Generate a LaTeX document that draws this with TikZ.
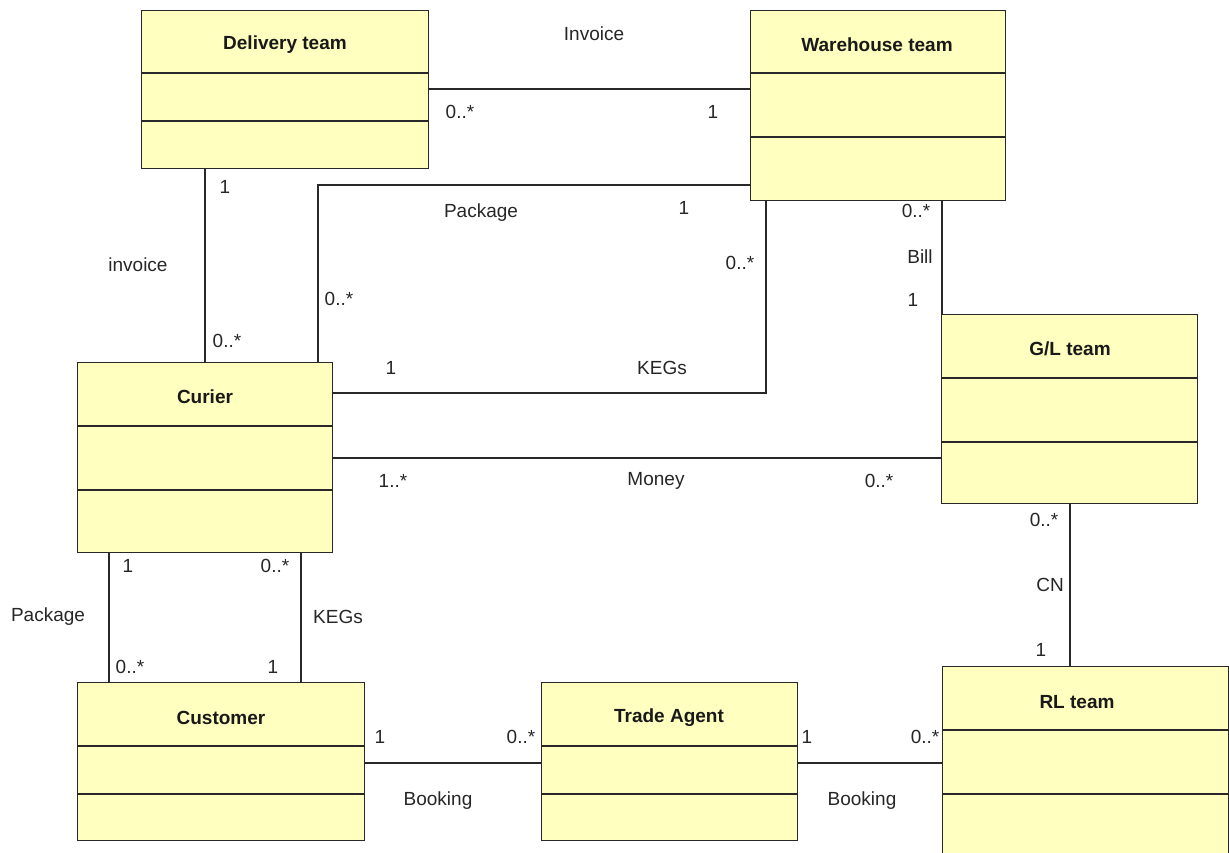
\documentclass[tikz,border=0pt]{standalone}
\usepackage{fontspec}
\setmainfont{Liberation Sans}
\definecolor{clsfill}{RGB}{255,255,192}
\definecolor{clsline}{RGB}{40,40,40}
\tikzset{
  cls/.style={draw=clsline, fill=clsfill, line width=1.3pt, inner sep=0pt, anchor=north west},
  divider/.style={draw=clsline, line width=1.3pt},
  title/.style={font=\fontsize{19}{21}\selectfont\bfseries, inner sep=0pt, text=black!90},
  lbl/.style={font=\fontsize{19}{21}\selectfont, inner sep=0pt, text=black!85},
  assoc/.style={draw=clsline, line width=1.3pt},
}
\begin{document}
\begin{tikzpicture}[x=1pt,y=-1pt]
\useasboundingbox (0,0) rectangle (1229,852);
\begin{scope}
\clip (0,0) rectangle (1229,852);
% classes
\node[cls, minimum width=287pt, minimum height=158pt] (dt) at (141,10) {};
\node[cls, minimum width=255pt, minimum height=190pt] (wh) at (750,10) {};
\node[cls, minimum width=256pt, minimum height=189pt] (gl) at (941,314) {};
\node[cls, minimum width=255pt, minimum height=190pt] (cu) at (77,362) {};
\node[cls, minimum width=287pt, minimum height=158pt] (cs) at (77,682) {};
\node[cls, minimum width=256pt, minimum height=158pt] (ta) at (541,682) {};
\node[cls, minimum width=286pt, minimum height=210pt] (rl) at (942,666) {};
% dividers
\draw[divider] (dt.west |- 0,73) -- (dt.east |- 0,73);
\draw[divider] (dt.west |- 0,121) -- (dt.east |- 0,121);
\draw[divider] (wh.west |- 0,73) -- (wh.east |- 0,73);
\draw[divider] (wh.west |- 0,137) -- (wh.east |- 0,137);
\draw[divider] (gl.west |- 0,378) -- (gl.east |- 0,378);
\draw[divider] (gl.west |- 0,442) -- (gl.east |- 0,442);
\draw[divider] (cu.west |- 0,426) -- (cu.east |- 0,426);
\draw[divider] (cu.west |- 0,490) -- (cu.east |- 0,490);
\draw[divider] (cs.west |- 0,746) -- (cs.east |- 0,746);
\draw[divider] (cs.west |- 0,794) -- (cs.east |- 0,794);
\draw[divider] (ta.west |- 0,746) -- (ta.east |- 0,746);
\draw[divider] (ta.west |- 0,794) -- (ta.east |- 0,794);
\draw[divider] (rl.west |- 0,730) -- (rl.east |- 0,730);
\draw[divider] (rl.west |- 0,794) -- (rl.east |- 0,794);
% titles
\node[title] (tdt) at (285,45) {Delivery team};
\node[title] (twh) at (877,45) {Warehouse team};
\node[title] (tgl) at (1070,349) {G/L team};
\node[title] (tcu) at (205,397) {Curier};
\node[title] (tcs) at (221,718) {Customer};
\node[title] (tta) at (669,718) {Trade Agent};
\node[title] (trl) at (1077,702) {RL team};
\end{scope}
% associations
\draw[assoc] (dt.east |- 0,89) -- (wh.west |- 0,89);
\draw[assoc] (dt.south -| 205,0) -- (cu.north -| 205,0);
\draw[assoc] (wh.west |- 0,185) -| (cu.north -| 318,0);
\draw[assoc] (wh.south -| 766,0) |- (cu.east |- 0,393);
\draw[assoc] (wh.south -| 942,0) -- (gl.north -| 942,0);
\draw[assoc] (cu.east |- 0,458) -- (gl.west |- 0,458);
\draw[assoc] (gl.south -| 1070,0) -- (rl.north -| 1070,0);
\draw[assoc] (cu.south -| 109,0) -- (cs.north -| 109,0);
\draw[assoc] (cu.south -| 301,0) -- (cs.north -| 301,0);
\draw[assoc] (cs.east |- 0,763) -- (ta.west |- 0,763);
\draw[assoc] (ta.east |- 0,763) -- (rl.west |- 0,763);
% labels
\node[lbl] (l1) at (594,34) {Invoice};
\node[lbl] (l2) at (460,112) {0..*};
\node[lbl] (l3) at (713,112) {1};
\node[lbl] (l4) at (225,187) {1};
\node[lbl] (l5) at (138,265) {invoice};
\node[lbl] (l6) at (227,341) {0..*};
\node[lbl] (l7) at (481,213) {Package};
\node[lbl] (l8) at (684,208) {1};
\node[lbl] (l9) at (339,299) {0..*};
\node[lbl] (l10) at (740,263) {0..*};
\node[lbl] (l11) at (391,368) {1};
\node[lbl] (l12) at (662,368) {KEGs};
\node[lbl] (l13) at (916,211) {0..*};
\node[lbl] (l14) at (920,257) {Bill};
\node[lbl] (l15) at (913,300) {1};
\node[lbl] (l16) at (393,481) {1..*};
\node[lbl] (l17) at (656,481) {Money};
\node[lbl] (l18) at (879,481) {0..*};
\node[lbl] (l19) at (1044,520) {0..*};
\node[lbl] (l20) at (1050,585) {CN};
\node[lbl] (l21) at (1041,650) {1};
\node[lbl] (l22) at (128,566) {1};
\node[lbl] (l23) at (48,617) {Package};
\node[lbl] (l24) at (130,667) {0..*};
\node[lbl] (l25) at (275,566) {0..*};
\node[lbl] (l26) at (338,617) {KEGs};
\node[lbl] (l27) at (273,667) {1};
\node[lbl] (l28) at (380,737) {1};
\node[lbl] (l29) at (521,737) {0..*};
\node[lbl] (l30) at (438,801) {Booking};
\node[lbl] (l31) at (807,737) {1};
\node[lbl] (l32) at (925,737) {0..*};
\node[lbl] (l33) at (862,801) {Booking};
\end{tikzpicture}
\end{document}
